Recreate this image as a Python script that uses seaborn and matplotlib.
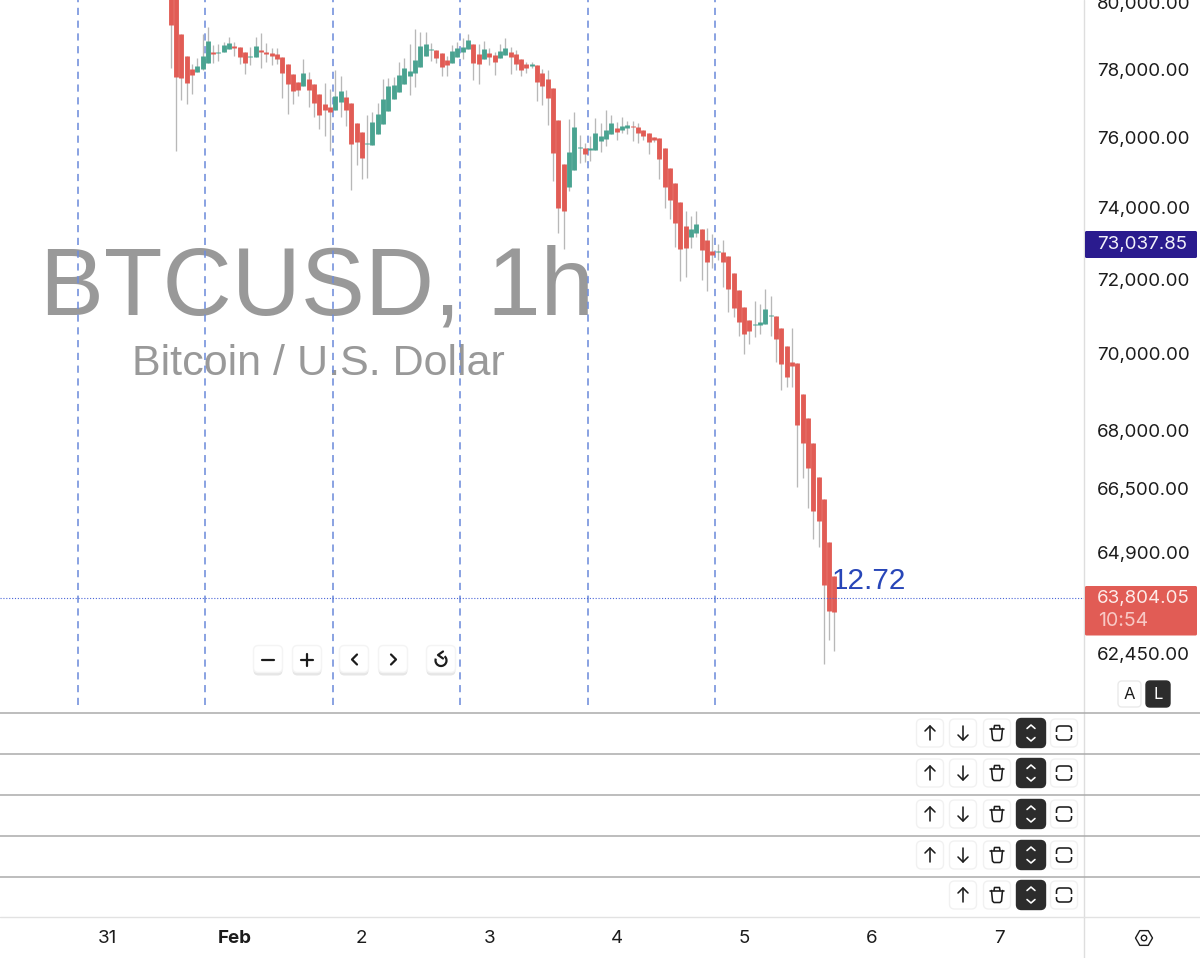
import numpy as np
import pandas as pd
import matplotlib
matplotlib.use('Agg')
import matplotlib.pyplot as plt
from matplotlib.patches import FancyBboxPatch, Rectangle, Polygon, Circle, Arc
import seaborn as sns

opens = [80700, 80390, 79060, 78400, 78010, 77920, 78010, 78190, 78520, 78490,
         78520, 78610, 78700, 78670, 78520, 78370, 78370, 78580, 78520, 78490,
         78460, 78370, 78160, 77860, 77630, 77510, 77720, 77570, 77280, 76980,
         76900, 76810, 77040, 77190, 77010, 76430, 76170, 75820, 75790, 76110,
         76400, 76780, 77130, 77330, 77570, 77800, 77890, 78070, 78400, 78580,
         78580, 78490, 78280, 78190, 78370, 78520, 78610, 78760, 78460, 78310,
         78490, 78430, 78340, 78430, 78520, 78460, 78310, 78160, 78100, 78130,
         77890, 77720, 77450, 76515, 75240, 74590, 75070, 75700, 75700, 75640,
         75640, 75910, 75960, 76110, 76280, 76220, 76280, 76340, 76310, 76220,
         76140, 76020, 75990, 75700, 75130, 74700, 74160, 73490, 73180, 73300,
         73410, 73100, 72790, 72760, 72760, 72650, 72190, 71720, 71260, 70910,
         70770, 70770, 70800, 71010, 71010, 70690, 70210, 69780, 69760, 68940,
         68310, 67660, 66790, 66240, 65160, 64320]
closes = [79330, 77775, 77745, 77600, 77830, 78100, 78400, 78850, 78460, 78520,
          78730, 78790, 78640, 78370, 78190, 78400, 78700, 78520, 78460, 78400,
          78310, 77890, 77570, 77360, 77390, 77890, 77390, 77010, 76660, 76810,
          76750, 77220, 77360, 76810, 75820, 75880, 75420, 75850, 76460, 76690,
          77130, 77510, 77540, 77830, 78040, 77950, 78280, 78700, 78760, 78610,
          78340, 78070, 78130, 78550, 78640, 78670, 78880, 78190, 78160, 78610,
          78370, 78220, 78550, 78640, 78370, 78160, 77980, 78040, 78160, 77630,
          77510, 77160, 75560, 74000, 73910, 75590, 76310, 75730, 75530, 75700,
          76140, 76050, 76220, 76430, 76170, 76340, 76370, 76310, 76140, 76050,
          75880, 75935, 75390, 74590, 74220, 73570, 72850, 72880, 73410, 73550,
          72820, 72490, 72680, 72790, 72490, 71740, 71230, 70850, 70530, 70610,
          70800, 70850, 71200, 71040, 70400, 69730, 69380, 69670, 68130, 67660,
          67020, 65930, 65680, 64100, 63470, 63450]
highs = [81000, 81500, 79060, 78400, 78160, 78340, 79060, 79270, 78730, 78760,
         78820, 78970, 78820, 78670, 78520, 78670, 78970, 79090, 78790, 78640,
         78640, 78370, 78160, 77860, 77630, 78310, 77920, 77570, 77280, 77600,
         77420, 77980, 77800, 77390, 77010, 76430, 76170, 76660, 76750, 77010,
         77720, 77745, 77775, 78220, 78340, 78760, 79210, 79120, 79120, 78790,
         78580, 78490, 78400, 78730, 78820, 78940, 79060, 78760, 78760, 78850,
         78640, 78520, 78760, 78940, 78670, 78580, 78310, 78220, 78220, 78130,
         78010, 77980, 77450, 76515, 75240, 76540, 76750, 76080, 75850, 76050,
         76570, 76430, 76810, 76660, 76460, 76600, 76490, 76490, 76430, 76220,
         76140, 76020, 75990, 75700, 75130, 74700, 74160, 73910, 73770, 73910,
         73410, 73430, 73270, 72990, 73100, 72650, 72190, 71720, 71260, 70910,
         71420, 71340, 71740, 71550, 71010, 70690, 70210, 70690, 69760, 68940,
         68310, 67660, 66790, 66240, 65160, 64320]
lows = [78040, 75620, 77100, 76980, 77280, 77920, 77980, 78190, 78190, 78250,
        78520, 78610, 78400, 78160, 77860, 78130, 78370, 78040, 78220, 78130,
        78160, 77160, 76690, 76980, 77220, 77510, 76890, 76600, 76250, 76050,
        75620, 76810, 76600, 76340, 74500, 75220, 74820, 74850, 75790, 76110,
        76400, 76780, 77130, 77330, 77570, 77250, 77480, 78070, 78400, 78250,
        78190, 77800, 77800, 78190, 78370, 78310, 78610, 77690, 77570, 78310,
        78130, 77830, 78340, 78430, 77860, 77980, 77800, 77890, 78040, 77070,
        76950, 76370, 74760, 73300, 72850, 74480, 75070, 75270, 75300, 75330,
        75640, 75590, 75760, 76110, 75935, 76140, 76110, 75910, 75850, 75935,
        75530, 75880, 74820, 74000, 73690, 72910, 71970, 72080, 72880, 73180,
        71990, 71690, 72320, 72540, 71800, 71120, 70990, 70480, 69990, 70260,
        70450, 70530, 70800, 70480, 69780, 69040, 69120, 69120, 66540, 66770,
        66010, 65240, 65040, 62200, 62775, 62510]

price_ticks = [80000, 78000, 76000, 74000, 72000, 70000, 68000, 66500, 64900, 62450]
price_labels = ['80,000.00', '78,000.00', '76,000.00', '74,000.00', '72,000.00',
                '70,000.00', '68,000.00', '66,500.00', '64,900.00', '62,450.00']
day_ticks = [-12, 12, 36, 60, 84, 108, 132, 156]
day_labels = ['31', 'Feb', '2', '3', '4', '5', '6', '7']
session_lines = [-17.5, 6.5, 30.5, 54.5, 78.5, 102.5]
last_price = 63804.05

RED = '#E15C55'
GREEN = '#4AA391'
INK = '#1c1c1c'

df = pd.DataFrame({'candle': range(len(opens)), 'open': opens, 'close': closes,
                   'high': highs, 'low': lows})
df['side'] = np.where(df.close >= df.open, 'up', 'down')
wicks = df.melt(id_vars=['candle', 'side'], value_vars=['high', 'low'], value_name='price')
bodies = df.melt(id_vars=['candle', 'side'], value_vars=['open', 'close'], value_name='price')

sns.set_theme(style='white')
plt.rcParams['font.family'] = ['Inter', 'DejaVu Sans']

fig = plt.figure(figsize=(12, 9.58), dpi=100)

# main price pane, log scale like the original
ax = fig.add_axes([0, 1 - 712 / 958, 1084 / 1200, 712 / 958], zorder=2)
ax.patch.set_visible(False)
ax.set_yscale('log')
for x in session_lines:
    ax.axvline(x, ymin=7 / 712, color='#6F8DDB', lw=1.15, dashes=(4.5, 3.5), zorder=1)
sns.lineplot(data=wicks, x='candle', y='price', units='candle', estimator=None, sort=False,
             color='#B8B8B8', lw=0.95, solid_capstyle='butt', legend=False, ax=ax, zorder=2)
sns.lineplot(data=bodies, x='candle', y='price', units='candle', estimator=None, sort=False,
             hue='side', palette={'up': GREEN, 'down': RED}, lw=3.5, solid_capstyle='butt',
             legend=False, ax=ax, zorder=3)
ax.axhline(last_price, color='#4A66D8', lw=0.8, ls=(0, (1, 1.6)), zorder=4)
ax.set_xlim(-32.15, 172)
ax.set_ylim(61085, 80091)
ax.set_yticks(price_ticks, price_labels)
ax.minorticks_off()
ax.yaxis.tick_right()
ax.tick_params(axis='y', length=0, pad=9.2, labelsize=13.5, labelcolor=INK)
ax.set_xticks([])
ax.set_xlabel('')
ax.set_ylabel('')
sns.despine(ax=ax, left=True, bottom=True, right=True, top=True)

# date strip at the bottom
axb = fig.add_axes([0, 1 - 917 / 958, 1084 / 1200, 1 / 958], zorder=2)
axb.patch.set_visible(False)
axb.set_xlim(ax.get_xlim())
axb.set_yticks([])
axb.set_xticks(day_ticks, day_labels)
axb.tick_params(axis='x', length=0, pad=9.3, labelsize=13.5, labelcolor=INK)
axb.get_xticklabels()[1].set_fontweight('bold')
sns.despine(ax=axb, left=True, bottom=True)


def ftext(x, y, s, **kw):
    return fig.text(x / 1200, 1 - y / 958, s, **kw)


# watermark and the text behind the candles
ftext(317, 289.5, 'BTCUSD, 1h', family='Liberation Sans', fontsize=69, color='#999999',
      ha='center', va='center', zorder=-1)
ftext(318, 364, 'Bitcoin / U.S. Dollar', family='Liberation Sans', fontsize=31,
      color='#999999', ha='center', va='center', zorder=-1)
ftext(832, 581, '12.72', family='Liberation Sans', fontsize=21.3, color='#2846B8',
      ha='left', va='center', zorder=-1)

# overlay in pixels for the app chrome
ui = fig.add_axes([0, 0, 1, 1], zorder=5)
ui.set_xlim(0, 1200)
ui.set_ylim(958, 0)
ui.axis('off')
ui.patch.set_visible(False)

ui.plot([1084, 1084], [0, 958], color='#DEDEDE', lw=1)
for y in [712.5, 753.5, 794.5, 835.5, 876.5]:
    ui.plot([0, 1200], [y, y], color='#ABABAB', lw=1.1)
ui.plot([0, 1200], [916.5, 916.5], color='#E2E2E2', lw=1)


def box(cx, cy, w=27, h=28, face='white', edge='#F1F1F1', r=5, lw=1.0, zorder=2):
    ui.add_patch(FancyBboxPatch((cx - w / 2 + r, cy - h / 2 + r), w - 2 * r, h - 2 * r,
                                boxstyle=f'round,pad={r},rounding_size={r}',
                                fc=face, ec=edge, lw=lw, zorder=zorder))


def seg(xs, ys, color=INK, lw=1.15):
    ui.plot(xs, ys, color=color, lw=lw, solid_capstyle='round', solid_joinstyle='round', zorder=6)


def arrow(cx, cy, up=True):
    s = 1 if up else -1
    seg([cx, cx], [cy - 7 * s, cy + 7 * s])
    seg([cx - 5, cx, cx + 5], [cy - 2 * s, cy - 7 * s, cy - 2 * s])


def trash(cx, cy):
    seg([cx - 7, cx + 7], [cy - 4.5, cy - 4.5])
    seg([cx - 3, cx - 2.5, cx + 2.5, cx + 3], [cy - 4.5, cy - 7.5, cy - 7.5, cy - 4.5])
    seg([cx - 5.5, cx - 4.5, cx - 3, cx + 3, cx + 4.5, cx + 5.5],
        [cy - 4.5, cy + 6, cy + 7.5, cy + 7.5, cy + 6, cy - 4.5])


def dark_toggle(cx, cy):
    box(cx, cy, 29, 29, face='#2C2C2C', edge='#2C2C2C', r=5)
    seg([cx - 4, cx, cx + 4], [cy - 4.5, cy - 8, cy - 4.5], color='white')
    seg([cx - 4, cx, cx + 4], [cy + 4.5, cy + 8, cy + 4.5], color='white')


def expand(cx, cy):
    box(cx, cy, 15, 14, face='white', edge=INK, r=3.5, lw=1.15, zorder=6)
    ui.add_patch(Rectangle((cx - 9, cy - 1.5), 18, 3, fc='white', ec='none', zorder=6.5))


for y, has_down in [(733, True), (773, True), (814, True), (855, True), (895, False)]:
    if has_down:
        box(930, y)
        arrow(930, y)
        box(963, y)
        arrow(963, y, up=False)
    else:
        box(963, y)
        arrow(963, y)
    box(997, y)
    trash(997, y)
    dark_toggle(1031, y)
    box(1064, y)
    expand(1064, y)

# zoom and pan buttons
for x in [268, 307, 354, 393, 441]:
    box(x, 661.5, 29, 28, face='#E6E6E6', edge='none', r=5, zorder=1.5)
    box(x, 659, 29, 27, face='white', edge='#F4F4F4', r=5)
seg([262, 274], [659.5, 659.5], lw=1.6)
seg([301, 313], [659.5, 659.5], lw=1.6)
seg([307, 307], [653.5, 665.5], lw=1.6)
seg([357, 352, 357], [654.5, 659.5, 664.5], lw=1.6)
seg([391, 396, 391], [654.5, 659.5, 664.5], lw=1.6)
ui.add_patch(Arc((441, 660.5), 11, 11, theta1=-50, theta2=200, color=INK, lw=1.6, zorder=6))
seg([443, 438, 443], [651.5, 655, 658.5], lw=1.6)

# price badges
ui.add_patch(FancyBboxPatch((1085, 231), 112, 27, boxstyle='round,pad=0,rounding_size=1.5',
                            fc='#2A1B8E', ec='none', zorder=3))
ui.text(1097, 244.5, '73,037.85', color='#F2F1FA', fontsize=13.5, va='center', zorder=6)
ui.add_patch(FancyBboxPatch((1085, 586), 112, 49.5, boxstyle='round,pad=0,rounding_size=1.5',
                            fc=RED, ec='none', zorder=3))
ui.text(1097, 598.5, '63,804.05', color='#FDEBE9', fontsize=13.5, va='center', zorder=6)
ui.text(1098, 621, '10:54', color='#F8C9C5', fontsize=14, va='center', zorder=6)

# auto / log toggles
box(1129.5, 694, 23, 26, edge='#EAEAEA', r=4)
ui.text(1129.5, 694.5, 'A', color=INK, fontsize=12, ha='center', va='center', zorder=6)
box(1158, 694, 24, 26, face='#2C2C2C', edge='#2C2C2C', r=4)
ui.text(1158, 694.5, 'L', color='white', fontsize=12, ha='center', va='center', zorder=6)

# settings icon
ang = np.deg2rad(np.arange(0, 360, 60))
ui.add_patch(Polygon(np.c_[1144 + 8.5 * np.cos(ang), 938 + 8.5 * np.sin(ang)], closed=True,
                     fc='white', ec=INK, lw=1, joinstyle='round', zorder=6))
ui.add_patch(Circle((1144, 938), 2.7, fc='white', ec=INK, lw=1, zorder=6))

fig.savefig('out.png', dpi=100)
